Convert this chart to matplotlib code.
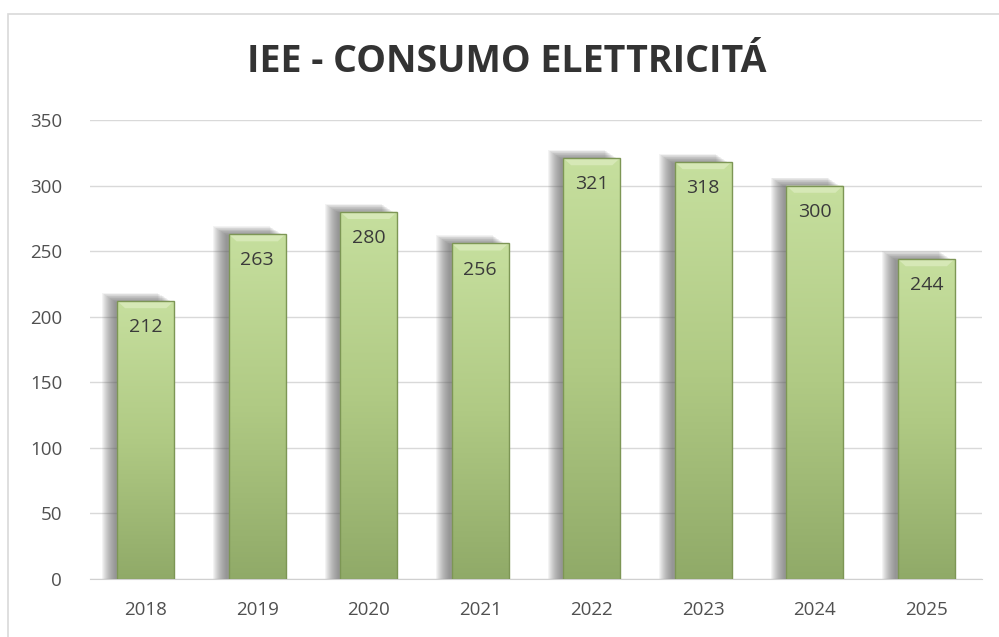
import numpy as np
import matplotlib.pyplot as plt
from matplotlib.patches import Rectangle, Polygon
from matplotlib.colors import LinearSegmentedColormap

years = ['2018', '2019', '2020', '2021', '2022', '2023', '2024', '2025']
values = [212, 263, 280, 256, 321, 318, 300, 244]

plt.rcParams['font.family'] = ['Open Sans', 'DejaVu Sans']

fig = plt.figure(figsize=(9.99, 6.37), dpi=100)
# light frame round the chart (right and bottom edges fall outside the image)
fig.patches.append(Rectangle((0.008, -0.05), 1.1, 1.028, transform=fig.transFigure,
                             fill=False, edgecolor='#d9d9d9', linewidth=1.2))
ax = fig.add_axes([0.090, 0.091, 0.893, 0.7206])

x = np.arange(len(years))
width = 0.51
cmap = LinearSegmentedColormap.from_list('g', ['#90aa68', '#b0ca84', '#c6df9e'])
grad = np.linspace(0, 1, 256).reshape(-1, 1)

for xi, v in zip(x, values):
    left = xi - width / 2
    # soft shadow up and to the left
    for k in range(14):
        s = k * 0.009
        ax.add_patch(Rectangle((left - 0.14 + s, 0), width, v + 6 - k * 0.5,
                               facecolor='#666666', alpha=0.075, edgecolor='none', zorder=1))
    bar = Rectangle((left, 0), width, v, facecolor='none', edgecolor='#7d9655',
                    linewidth=1, zorder=3)
    ax.add_patch(bar)
    im = ax.imshow(grad, cmap=cmap, extent=(left, left + width, 0, v), origin='lower',
                   aspect='auto', zorder=2)
    im.set_clip_path(bar)
    # bevel at top
    bh = 5.5
    bw = 0.07
    ax.add_patch(Polygon([(left, v), (left + width, v), (left + width - bw, v - bh),
                          (left + bw, v - bh)], closed=True, facecolor='#d6e8b6',
                         edgecolor='none', zorder=2.5))
    ax.text(xi, v - 20, str(v), ha='center', va='center', fontsize=14,
            color='#3a3a3a', zorder=4)

ax.set_xlim(-0.5, len(years) - 0.5)
ax.set_ylim(0, 350)
ax.set_yticks(range(0, 351, 50))
ax.set_xticks(x)
ax.set_xticklabels(years)
ax.yaxis.grid(True, color='#d9d9d9', linewidth=1)
ax.set_axisbelow(True)
for side in ['top', 'right', 'left']:
    ax.spines[side].set_visible(False)
ax.spines['bottom'].set_color('#d0d0d0')
ax.tick_params(axis='both', length=0, labelsize=13.5, colors='#505050')
ax.tick_params(axis='x', pad=16)
ax.tick_params(axis='y', pad=20)

fig.text(0.507, 0.902, 'IEE - CONSUMO ELETTRICITÁ', ha='center', va='center',
         fontsize=27, fontweight='bold', color='#333333')

fig.savefig('out.png', dpi=100)
